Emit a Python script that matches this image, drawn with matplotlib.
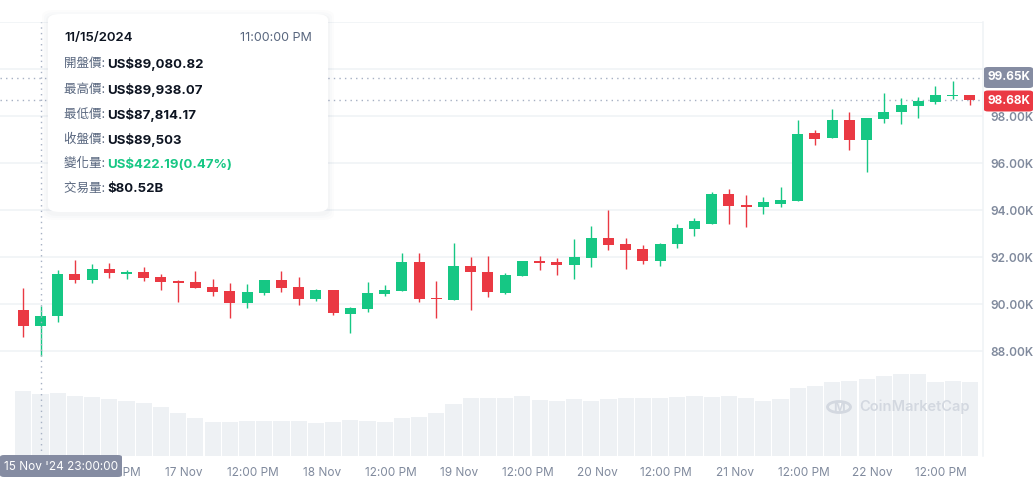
import matplotlib
matplotlib.use("Agg")
import matplotlib.pyplot as plt
import matplotlib.dates as mdates
from matplotlib.patches import FancyBboxPatch, Circle
import pandas as pd
import numpy as np

# ---------------- data ----------------
start_time = "2024-11-15 20:00"
n_candles = 56
opens = [89757, 89080.82, 89503, 91289, 91034, 91502, 91289, 91374, 91162, 90991,
         90949, 90736, 90566, 90068, 90494, 91034, 90736, 90238, 90609, 89600,
         89813, 90451, 90579, 91800, 90268, 90183, 91630, 91374, 90494, 91217,
         91843, 91800, 91685, 91983, 92821, 92566, 92353, 91855, 92579, 93217,
         93430, 94694, 94226, 94153, 94281, 94409, 97289, 97089, 97843, 97004,
         97898, 98183, 98451, 98621, 98876, 98906]
highs = [90694, 89938.07, 91460, 91885, 91715, 91757, 91460, 91587, 91289, 91034,
         91417, 91077, 90906, 90864, 91034, 91417, 91162, 90651, 90609, 89872,
         90949, 90821, 92183, 92183, 90991, 92609, 92013, 92055, 91332, 91843,
         92055, 91970, 92779, 93332, 94013, 92821, 92523, 92609, 93417, 93672,
         94779, 94906, 94651, 94566, 94991, 97843, 97417, 98310, 98183, 97928,
         98991, 98779, 98821, 99289, 99502, 98906]
lows = [88621, 87814.17, 89260, 90919, 90919, 91132, 91077, 90991, 90609, 90111,
        90706, 90353, 89430, 89855, 90396, 90536, 89983, 90153, 89557, 88766,
        89685, 90366, 90579, 90111, 89430, 90183, 89770, 90323, 90451, 91217,
        91472, 91260, 91089, 91600, 92323, 91515, 91728, 91643, 92409, 92919,
        93430, 93430, 93302, 93855, 94153, 94409, 96791, 97089, 96579, 95643,
        97728, 97685, 97940, 98536, 98736, 98493]
closes = [89089, 89503, 91289, 91034, 91502, 91345, 91374, 91132, 90962, 90919,
          90706, 90536, 90068, 90523, 91034, 90706, 90238, 90609, 89643, 89843,
          90481, 90609, 91800, 90238, 90226, 91630, 91387, 90536, 91247, 91843,
          91770, 91685, 92013, 92821, 92536, 92323, 91855, 92566, 93247, 93545,
          94694, 94196, 94153, 94353, 94438, 97247, 97047, 97843, 97004, 97928,
          98183, 98481, 98651, 98906, 98906, 98680]
volumes_b = [84.0, 80.52, 81.4, 77.9, 76.2, 73.6, 71.0, 68.4, 63.2, 55.4,
             49.0, 43.8, 43.8, 45.1, 45.1, 45.1, 45.1, 42.5, 43.8, 46.4,
             45.1, 43.8, 49.0, 50.3, 55.4, 67.1, 74.9, 74.9, 74.9, 77.5,
             72.3, 71.0, 73.6, 71.0, 73.6, 74.9, 74.9, 74.9, 76.2, 77.5,
             76.2, 77.5, 74.9, 71.0, 73.6, 87.9, 90.5, 95.7, 97.0, 99.6,
             103.5, 106.1, 106.1, 95.7, 97.0, 95.7]

price_ticks = [88000, 90000, 92000, 94000, 96000, 98000]
price_tick_labels = ["88.00K", "90.00K", "92.00K", "94.00K", "96.00K", "98.00K"]
grid_levels = [88000, 90000, 92000, 94000, 96000, 98000, 100000, 102000]
x_ticks = ["2024-11-16 12:00", "2024-11-17 00:00", "2024-11-17 12:00",
           "2024-11-18 00:00", "2024-11-18 12:00", "2024-11-19 00:00", "2024-11-19 12:00",
           "2024-11-20 00:00", "2024-11-20 12:00", "2024-11-21 00:00", "2024-11-21 12:00",
           "2024-11-22 00:00", "2024-11-22 12:00"]
x_tick_labels = ["12:00 PM", "17 Nov", "12:00 PM", "18 Nov", "12:00 PM",
                 "19 Nov", "12:00 PM", "20 Nov", "12:00 PM", "21 Nov", "12:00 PM",
                 "22 Nov", "12:00 PM"]
crosshair_time = "2024-11-15 23:00"
crosshair_label = "15 Nov '24 23:00:00"
crosshair_price = 99650
last_price = 98680

tooltip_date = "11/15/2024"
tooltip_time = "11:00:00 PM"
tooltip_rows = [("開盤價: ", "US$89,080.82"), ("最高價: ", "US$89,938.07"),
                ("最低價: ", "US$87,814.17"), ("收盤價: ", "US$89,503"),
                ("變化量: ", "US$422.19(0.47%)"), ("交易量: ", "$80.52B")]

# ---------------- style ----------------
GREEN = "#16c784"
RED = "#ea3943"
GRID = "#eff2f5"
VOL = "#eef1f4"
LABEL = "#808a9d"
DARK = "#0d1421"
SUB = "#58667e"
FONT = ["Inter", "Noto Sans CJK TC", "DejaVu Sans"]
plt.rcParams["font.family"] = FONT

times = pd.date_range(start_time, periods=n_candles, freq="3h")
xs = mdates.date2num(times.to_pydatetime())
step = xs[1] - xs[0]

fig = plt.figure(figsize=(10.35, 4.95), dpi=100)
W, H = 1035, 495
ax_l, ax_r, ax_t, ax_b = 0, 983.3, 22, 455.7
rect = [ax_l / W, 1 - ax_b / H, (ax_r - ax_l) / W, (ax_b - ax_t) / H]

axv = fig.add_axes(rect)
ax = fig.add_axes(rect, sharex=axv)
ax.patch.set_alpha(0)

x_left = xs[0] - 23.3 / 17.21 * step
x_right = xs[0] + (983.3 - 23.3) / 17.21 * step

# volume
axv.bar(xs, volumes_b, width=step * 0.94, color=VOL, zorder=1)
axv.set_ylim(0, 433.7 * 80.52 / 62.0)
axv.set_xlim(x_left, x_right)
axv.axis("off")

# price grid
for g in grid_levels:
    ax.axhline(g, color=GRID, lw=1.1, zorder=0)

# candles
for x, o, h, l, c in zip(xs, opens, highs, lows, closes):
    col = GREEN if c >= o else RED
    ax.vlines(x, l, h, color=col, lw=1.0, zorder=3)
    bot = min(o, c)
    hgt = max(abs(c - o), 25)
    ax.bar(x, hgt, bottom=bot, width=step * 0.64, color=col, zorder=4, linewidth=0)

ax.set_ylim(83557, 102013)
ax.set_xlim(x_left, x_right)

# dotted lines
ax.axhline(crosshair_price, color="#a6b0c3", lw=1.0, ls=(0, (1, 3)), zorder=2)
ax.axhline(last_price, color="#a6b0c3", lw=1.0, ls=(0, (1, 3)), zorder=2)
cx = mdates.date2num(pd.Timestamp(crosshair_time).to_pydatetime())
ax.axvline(cx, color="#a6b0c3", lw=1.0, ls=(0, (1, 3)), zorder=5)

# axes styling
for s in ["top", "left", "bottom"]:
    ax.spines[s].set_visible(False)
ax.spines["right"].set_color(GRID)
ax.spines["right"].set_linewidth(1.1)
ax.yaxis.tick_right()
ax.set_yticks(price_ticks)
ax.set_yticklabels(price_tick_labels)
ax.tick_params(axis="y", length=0, pad=5, labelsize=8.5, labelcolor=LABEL)
for t in ax.get_yticklabels():
    t.set_fontweight("semibold")
tick_x = mdates.date2num(pd.to_datetime(x_ticks).to_pydatetime())
ax.set_xticks(tick_x)
ax.set_xticklabels(x_tick_labels)
ax.tick_params(axis="x", length=0, pad=8, labelsize=8.5, labelcolor=LABEL)

# price labels on right
def right_label(y_px, text, color):
    fig.patches.append(FancyBboxPatch((984 / W, 1 - (y_px + 10.5) / H), 49 / W, 21 / H,
                                      boxstyle="round,pad=0,rounding_size=0.004",
                                      transform=fig.transFigure, fc=color, ec="none", zorder=10))
    fig.text(1008.5 / W, 1 - y_px / H, text, color="white", fontsize=8.5,
             fontweight="bold", ha="center", va="center", zorder=11)

right_label(77.5, "99.65K", "#858ca2")
right_label(101, "98.68K", RED)

# crosshair time label
fig.patches.append(FancyBboxPatch((0, 1 - 477 / H), 122 / W, 22 / H,
                                  boxstyle="round,pad=0,rounding_size=0.004",
                                  transform=fig.transFigure, fc="#858ca2", ec="none", zorder=10))
fig.text(61 / W, 1 - 466.5 / H, crosshair_label, color="white", fontsize=8.5,
         ha="center", va="center", zorder=11)

# watermark
fig.patches.append(Circle((839 / W, 1 - 407 / H), 11.5 / W, transform=fig.transFigure,
                          fc="none", ec="#d3d8e0", lw=2.0, zorder=6))
fig.text(839 / W, 1 - 408 / H, "M", color="#d3d8e0", fontsize=9, fontweight="bold",
         ha="center", va="center", zorder=6)
fig.text(859 / W, 1 - 407 / H, "CoinMarketCap", color="#d3d8e0", fontsize=10.5,
         fontweight="semibold", ha="left", va="center", zorder=6)

# tooltip
for i, a in enumerate([0.025, 0.02, 0.015]):
    d = 2 + i * 2
    fig.patches.append(FancyBboxPatch(((48 - d) / W, 1 - (212 + d + 2) / H), (280 + 2 * d) / W,
                                      (198 + 2 * d) / H,
                                      boxstyle="round,pad=0,rounding_size=0.012",
                                      transform=fig.transFigure, fc="#58667e", alpha=a,
                                      ec="none", zorder=12))
fig.patches.append(FancyBboxPatch((48 / W, 1 - 212 / H), 280 / W, 198 / H,
                                  boxstyle="round,pad=0,rounding_size=0.012",
                                  transform=fig.transFigure, fc="white", ec="none", zorder=13))
fig.text(64 / W, 1 - 38 / H, tooltip_date, color=DARK, fontsize=9.5, fontweight="semibold",
         ha="left", va="center", zorder=14)
fig.text(312 / W, 1 - 38 / H, tooltip_time, color=SUB, fontsize=9, ha="right",
         va="center", zorder=14)
row_y = [64, 90, 115, 140, 164, 189]
for (lab, val), yy in zip(tooltip_rows, row_y):
    fig.text(64 / W, 1 - yy / H, lab, color=SUB, fontsize=9, ha="left", va="center",
             zorder=14)
    vc = GREEN if lab.startswith("變化量") else DARK
    fig.text(107 / W, 1 - yy / H, val, color=vc, fontsize=9.5, fontweight="bold",
             ha="left", va="center", zorder=14)

fig.savefig("out.png", dpi=100, facecolor="white")
